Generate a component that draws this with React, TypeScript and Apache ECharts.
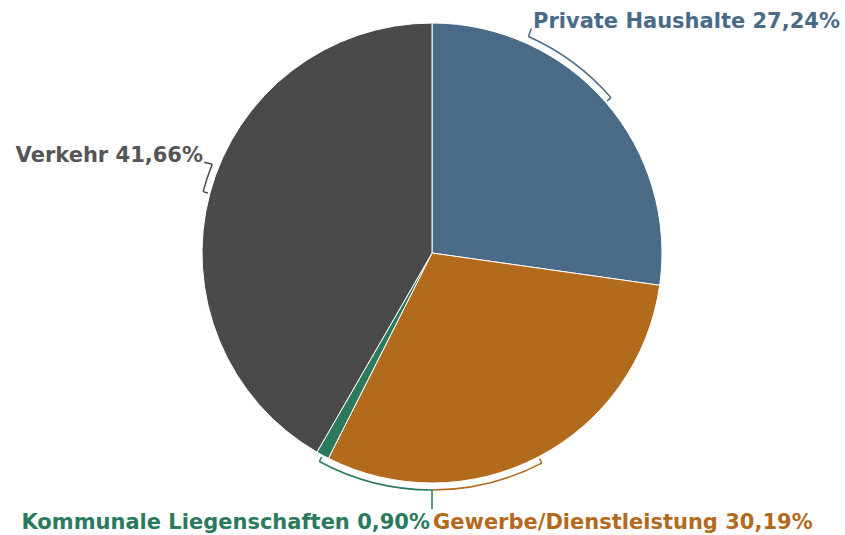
import React, { useEffect, useRef } from "react";
import * as echarts from "echarts";

const categories = ["Private Haushalte", "Gewerbe/Dienstleistung", "Kommunale Liegenschaften", "Verkehr"];
const shares = [27.24, 30.19, 0.9, 41.66];
const colors = ["#4a6b88", "#b26a1c", "#2b7a5e", "#4a4a4a"];
const labelColors = ["#4a6b88", "#b26a1c", "#2b7a5e", "#555555"];

// layout (not data)
const CX = 432;
const CY = 253;
const R = 230;
const BR = 237;
const anchorDeg = [24, 180, 180, 292];
const labelPos = [
  { x: 533, y: 21, align: "left" },
  { x: 433, y: 522, align: "left" },
  { x: 430, y: 522, align: "right" },
  { x: 203, y: 155, align: "right" },
];
const FONT = "'DejaVu Sans', sans-serif";

function pt(deg: number, r: number) {
  const a = ((deg - 90) * Math.PI) / 180;
  return [CX + r * Math.cos(a), CY + r * Math.sin(a)];
}

export default function App() {
  const ref = useRef<HTMLDivElement>(null);
  useEffect(() => {
    if (!ref.current) return;
    const chart = echarts.init(ref.current, undefined, { renderer: "svg" });
    const total = shares.reduce((a, b) => a + b, 0);
    let cum = 0;
    const graphics: any[] = [];
    shares.forEach((v, i) => {
      const start = (cum / total) * 360;
      cum += v;
      const end = (cum / total) * 360;
      const mid = (start + end) / 2;
      const anc = anchorDeg[i];
      const a1 = Math.min(mid, anc);
      const a2 = Math.max(mid, anc);
      graphics.push({
        type: "arc",
        silent: true,
        shape: {
          cx: CX,
          cy: CY,
          r: BR,
          startAngle: ((a1 - 90) * Math.PI) / 180,
          endAngle: ((a2 - 90) * Math.PI) / 180,
          clockwise: true,
        },
        style: { stroke: colors[i], lineWidth: 1.5, fill: null },
      });
      const p1 = pt(mid, BR);
      const p2 = pt(mid, BR - 5);
      graphics.push({
        type: "line",
        silent: true,
        shape: { x1: p1[0], y1: p1[1], x2: p2[0], y2: p2[1] },
        style: { stroke: colors[i], lineWidth: 1.5 },
      });
    });
    // connectors from bracket anchors to labels
    const pa = pt(anchorDeg[0], BR);
    graphics.push({
      type: "line",
      silent: true,
      shape: { x1: pa[0], y1: pa[1], x2: pa[0] + 3, y2: pa[1] - 8 },
      style: { stroke: colors[0], lineWidth: 1.5 },
    });
    const pv = pt(anchorDeg[3], BR);
    graphics.push({
      type: "line",
      silent: true,
      shape: { x1: pv[0], y1: pv[1], x2: pv[0] - 8, y2: pv[1] - 2 },
      style: { stroke: colors[3], lineWidth: 1.5 },
    });
    const pb = pt(180, BR);
    graphics.push({
      type: "line",
      silent: true,
      shape: { x1: pb[0], y1: pb[1], x2: pb[0], y2: pb[1] + 19 },
      style: { stroke: colors[2], lineWidth: 1.5 },
    });

    chart.setOption({
      animation: false,
      backgroundColor: "#ffffff",
      graphic: graphics,
      series: [
        {
          type: "pie",
          center: [CX, CY],
          radius: [0, R],
          startAngle: 90,
          clockwise: true,
          avoidLabelOverlap: false,
          itemStyle: { borderColor: "#ffffff", borderWidth: 1 },
          label: {
            show: true,
            position: "outside",
            fontFamily: FONT,
            fontSize: 21,
            fontWeight: "bold",
            formatter: (p: any) => `${p.name} ${p.value.toFixed(2).replace(".", ",")}%`,
          },
          labelLine: { show: false },
          labelLayout: (params: any) => {
            const lp = labelPos[params.dataIndex];
            return { x: lp.x, y: lp.y, align: lp.align, verticalAlign: "middle" };
          },
          emphasis: { disabled: true },
          data: categories.map((name, i) => ({
            name,
            value: shares[i],
            itemStyle: { color: colors[i] },
            label: { color: labelColors[i] },
          })),
        },
      ],
    });
    return () => chart.dispose();
  }, []);
  return (
    <div
      ref={ref}
      style={{ position: "fixed", left: 0, top: 0, width: 845, height: 535 }}
    />
  );
}
